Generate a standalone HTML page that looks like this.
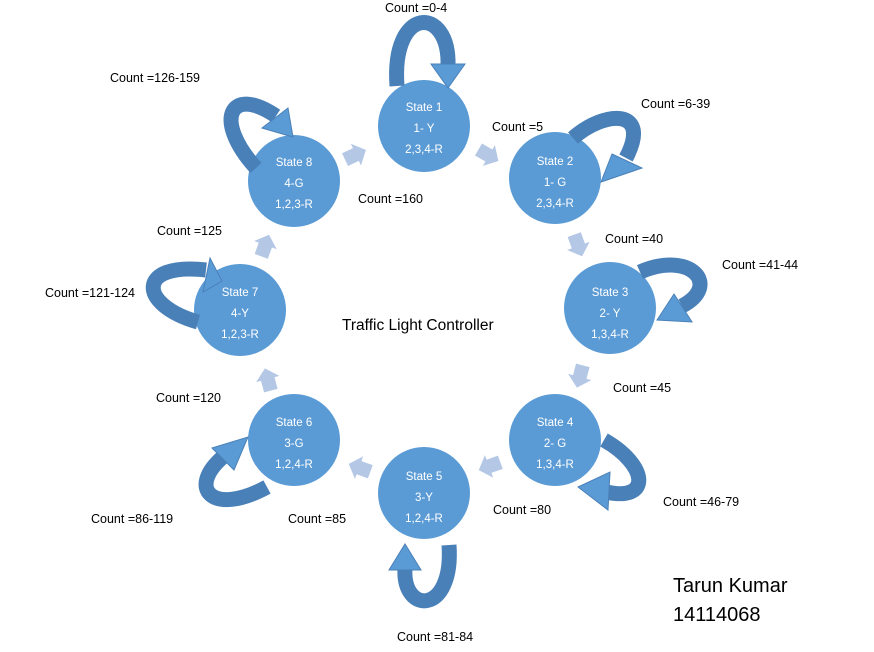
<!DOCTYPE html>
<html><head><meta charset="utf-8"><style>
body{margin:0;background:#fff;}
svg text{font-family:"Liberation Sans",sans-serif;}
</style></head><body>
<svg width="874" height="647" viewBox="0 0 874 647" xmlns="http://www.w3.org/2000/svg">
<defs>
<polygon id="la" points="-11,-7 1,-7 1,-12 12,0 1,12 1,7 -11,7" fill="#b4c8e6"/>
</defs>
<g fill="#5b9bd5">
<circle cx="424" cy="126" r="46"/>
<circle cx="555" cy="178" r="46"/>
<circle cx="610" cy="308" r="46"/>
<circle cx="555" cy="440" r="46"/>
<circle cx="424" cy="493" r="46"/>
<circle cx="294" cy="440" r="46"/>
<circle cx="240" cy="310" r="46"/>
<circle cx="294" cy="181" r="46"/>
</g>
<g fill="#fff" font-size="11.5" text-anchor="middle">
<text x="424" y="111">State 1</text><text x="424" y="132">1- Y</text><text x="424" y="153">2,3,4-R</text>
<text x="555" y="165">State 2</text><text x="555" y="186">1- G</text><text x="555" y="207">2,3,4-R</text>
<text x="610" y="296">State 3</text><text x="610" y="317">2- Y</text><text x="610" y="338">1,3,4-R</text>
<text x="555" y="426">State 4</text><text x="555" y="447">2- G</text><text x="555" y="468">1,3,4-R</text>
<text x="424" y="480">State 5</text><text x="424" y="501">3-Y</text><text x="424" y="522">1,2,4-R</text>
<text x="294" y="426">State 6</text><text x="294" y="447">3-G</text><text x="294" y="468">1,2,4-R</text>
<text x="240" y="296">State 7</text><text x="240" y="317">4-Y</text><text x="240" y="338">1,2,3-R</text>
<text x="294" y="166">State 8</text><text x="294" y="187">4-G</text><text x="294" y="208">1,2,3-R</text>
</g>
<g fill="none" stroke="#4a80b8" stroke-width="15">
<path d="M397,86 C391,5 450,5 448,66"/>
<path d="M573,138 C605,110 652,108 626,158"/>
<path d="M640,272 C690,250 722,285 682,306"/>
<path d="M604,440 C648,465 652,502 606,492"/>
<path d="M449,545 C454,615 402,615 405,568"/>
<path d="M267,487 C212,517 186,488 224,456"/>
<path d="M198,322 C138,305 136,262 206,270"/>
<path d="M256,168 C214,122 228,84 276,116"/>
</g>
<g fill="#5b9bd5" stroke="#4a80b8" stroke-width="1">
<polygon points="431,64 465,64 448,88"/>
<polygon points="612,154 642,168 601,182"/>
<polygon points="674,294 692,322 657,320"/>
<polygon points="610,472 608,510 578,487"/>
<polygon points="389,570 421,570 405,544"/>
<polygon points="212,448 234,470 248,437"/>
<polygon points="210,258 203,292 222,281"/>
<polygon points="262,128 288,108 293,137"/>
</g>
<use href="#la" transform="translate(355,155) rotate(-25)"/>
<use href="#la" transform="translate(488,155) rotate(30)"/>
<use href="#la" transform="translate(578,245) rotate(70)"/>
<use href="#la" transform="translate(580,376) rotate(105)"/>
<use href="#la" transform="translate(490,466) rotate(160)"/>
<use href="#la" transform="translate(360,468) rotate(200)"/>
<use href="#la" transform="translate(268,380) rotate(-105)"/>
<use href="#la" transform="translate(265,246) rotate(-70)"/>
<g fill="#000" font-size="12.5">
<text x="385" y="12">Count =0-4</text>
<text x="110" y="82">Count =126-159</text>
<text x="641" y="108">Count =6-39</text>
<text x="492" y="131">Count =5</text>
<text x="358" y="203">Count =160</text>
<text x="157" y="235">Count =125</text>
<text x="605" y="243">Count =40</text>
<text x="722" y="269">Count =41-44</text>
<text x="45" y="297">Count =121-124</text>
<text x="613" y="392">Count =45</text>
<text x="156" y="402">Count =120</text>
<text x="663" y="506">Count =46-79</text>
<text x="493" y="514">Count =80</text>
<text x="288" y="523">Count =85</text>
<text x="91" y="523">Count =86-119</text>
<text x="397" y="641">Count =81-84</text>
</g>
<text x="342" y="330" font-size="15.5" fill="#000">Traffic Light Controller</text>
<text x="673" y="592" font-size="20" fill="#000">Tarun Kumar</text>
<text x="673" y="621" font-size="20" fill="#000">14114068</text>
</svg>
</body></html>
